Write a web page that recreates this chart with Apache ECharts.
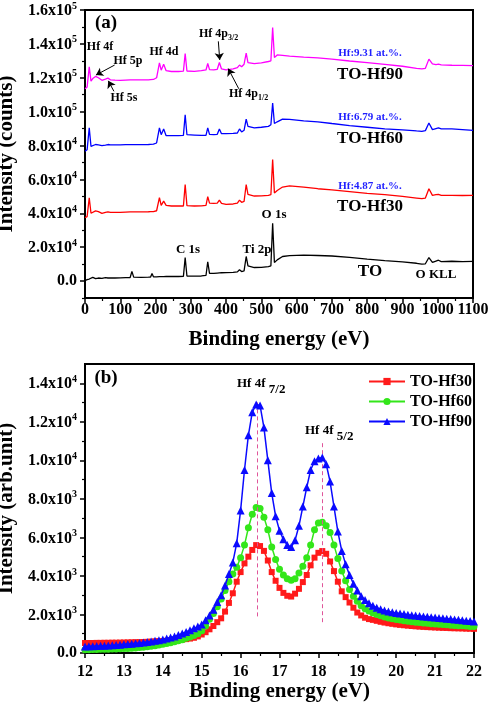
<!DOCTYPE html>
<html><head><meta charset="utf-8">
<script src="https://cdn.jsdelivr.net/npm/echarts@6/dist/echarts.min.js"></script>
<style>html,body{margin:0;padding:0;background:#fff}#c{width:491px;height:707px}</style>
</head><body><div id="c"></div>
<script>
// ---------- Panel (a): XPS survey spectra ----------
const surveyEnergy = [0,6,12,17,22,30,38,48,58,65,
 72,85,100,115,128,133,138,160,180,186,
 190,194,203,211,216,223,230,245,265,279,
 284,289,310,330,343,348,353,365,375,381,
 387,400,420,432,438,444,451,457,462,467,
 480,500,520,527,532,537,545,560,580,620,
 660,700,750,800,850,900,940,955,965,975,
 985,995,1002,1010,1040,1070,1100];
const surveyTO = [300,800,1200,1500,2200,1400,1800,1600,2000,1800,
 1900,1800,1900,2000,2100,5700,2300,2200,2300,2400,
 4500,2500,2500,2600,2600,2600,2700,2700,2700,2800,
 13900,3000,2900,3000,3300,11400,4500,4500,4700,4800,
 4900,5000,5100,5400,6700,5600,6000,14500,9000,8000,
 8000,8100,8500,9000,34100,11000,12500,14500,15000,15300,
 15100,14800,14000,13000,12100,11300,10500,10000,10200,13900,
 11000,11800,12300,11500,11700,11500,11600];
const surveyHf30 = [37400,38000,49200,40000,39800,41400,41000,40000,40600,40900,
 40500,40500,40600,40700,40800,41800,40800,40800,40900,41000,
 42000,41000,41500,49200,44700,47200,44700,44300,44300,44300,
 57000,44500,44300,44400,44700,49800,46000,45800,46000,47800,
 45800,45300,45500,46000,47800,46500,47000,57000,51200,50500,
 50200,50300,50600,51000,71700,52000,53500,55500,56200,55500,
 54500,53800,52800,51800,51000,50000,49000,48600,49000,54500,
 50600,51000,51200,50600,50600,50500,50600];
const surveyHf60 = [76600,77500,90400,79500,79200,80600,80400,80000,80300,80600,
 80400,80400,80400,80500,80500,81300,80500,80500,80600,80700,
 81500,80800,81500,90400,86400,89800,85800,85800,85800,86000,
 98200,86400,86200,86000,86000,90400,86600,86400,86600,89800,
 87000,87000,87200,87400,89800,88000,89000,95600,91300,90800,
 90400,90800,91300,92300,105000,93000,94000,95600,95400,94600,
 94000,93000,91800,90800,89800,89200,88600,88400,88800,93300,
 89400,90000,90400,89800,89800,89400,89000];
const surveyHf90 = [113500,114500,126500,118000,119500,120800,120000,118500,119200,119800,
 118800,118600,118500,118600,118700,119500,118700,118700,118800,118900,
 119600,119000,120000,128800,124500,128000,124200,123700,123700,123900,
 134300,124000,123800,124200,124600,128400,124800,124700,125000,129000,
 125200,124700,125200,126000,127500,126500,128000,134500,129000,128600,
 128300,128800,129600,130000,149700,132000,133500,133200,132800,132200,
 131700,131000,129900,128900,127900,126800,125500,125200,125600,131000,
 128200,127800,128000,127600,127400,127300,127200];
const surveyYTicks = [0,20000,40000,60000,80000,100000,120000,140000,160000];
const surveyYTickText = ['0.0','2.0x10^4','4.0x10^4','6.0x10^4','8.0x10^4','1.0x10^5','1.2x10^5','1.4x10^5','1.6x10^5'];
const surveyYMinor = [-10000,10000,30000,50000,70000,90000,110000,130000,150000];

// ---------- Panel (b): Hf 4f spectra ----------
const hfEnergy = [12.0,12.1,12.2,12.3,12.4,12.5,12.6,12.7,12.8,12.9,
 13.0,13.1,13.2,13.3,13.4,13.5,13.6,13.7,13.8,13.9,
 14.0,14.1,14.2,14.3,14.4,14.5,14.6,14.7,14.8,14.9,
 15.0,15.1,15.2,15.3,15.4,15.5,15.6,15.7,15.8,15.9,
 16.0,16.1,16.2,16.3,16.4,16.5,16.6,16.7,16.8,16.9,
 17.0,17.1,17.2,17.3,17.4,17.5,17.6,17.7,17.8,17.9,
 18.0,18.1,18.2,18.3,18.4,18.5,18.6,18.7,18.8,18.9,
 19.0,19.1,19.2,19.3,19.4,19.5,19.6,19.7,19.8,19.9,
 20.0,20.1,20.2,20.3,20.4,20.5,20.6,20.7,20.8,20.9,
 21.0,21.1,21.2,21.3,21.4,21.5,21.6,21.7,21.8,21.9,22.0];
const hf30 = [520,520,520,525,525,530,530,535,535,540,
 545,550,555,560,565,570,580,590,600,610,
 620,635,650,665,680,700,720,750,790,860,
 960,1080,1230,1400,1600,1800,2150,2600,3100,3700,
 4200,4650,5000,5350,5600,5550,5300,4800,4200,3750,
 3380,3120,2970,2930,3080,3330,3680,4050,4550,4950,
 5200,5290,5150,4750,4250,3700,3200,2900,2620,2350,
 2100,1950,1830,1760,1720,1670,1620,1580,1545,1515,
 1485,1460,1440,1420,1400,1385,1370,1355,1345,1335,
 1325,1315,1305,1300,1290,1285,1280,1275,1265,1260,1255];
const hf60 = [170,175,180,185,190,195,200,205,210,220,
 230,240,250,265,280,300,320,345,375,410,
 450,490,530,580,630,690,760,830,910,1000,
 1150,1400,1750,2050,2400,2800,3250,3700,4100,4450,
 4950,5600,6500,7200,7550,7500,7050,6400,5500,4850,
 4350,4050,3850,3770,3850,4150,4500,4950,5600,6400,
 6750,6780,6600,6250,5600,4900,4250,3750,3300,2950,
 2680,2450,2300,2180,2080,2000,1930,1870,1820,1780,
 1740,1710,1680,1650,1620,1600,1580,1560,1540,1520,
 1500,1490,1475,1460,1445,1430,1420,1410,1395,1380,1370];
const hf90 = [340,345,350,360,370,380,390,400,415,430,
 450,465,480,500,520,545,570,600,630,665,
 700,750,800,860,930,1010,1090,1180,1280,1370,
 1480,1700,1950,2250,2650,3000,3500,4100,4700,5700,
 7400,9500,11300,12500,12900,12850,11700,10000,8300,7100,
 6350,5900,5600,5500,5850,6600,7600,8600,9500,9950,
 10100,10150,9800,8900,7600,6300,5300,4600,4050,3600,
 3250,2950,2750,2580,2450,2350,2270,2210,2160,2120,
 2080,2050,2020,1990,1960,1940,1920,1900,1880,1860,
 1840,1820,1800,1780,1760,1740,1720,1700,1680,1660,1640];
const hfYTicks = [0,2000,4000,6000,8000,10000,12000,14000];
const hfYTickText = ['0.0','2.0x10^3','4.0x10^3','6.0x10^3','8.0x10^3','1.0x10^4','1.2x10^4','1.4x10^4'];
const hfYMinor = [1000,3000,5000,7000,9000,11000,13000];
const peakPositions = [16.43, 18.11];

const FONT = '"Liberation Serif","Times New Roman",serif';
const chart = echarts.init(document.getElementById('c'), null, {renderer:'canvas'});

function sciFormatter(ticks, texts){
  return function(v){
    const i = ticks.indexOf(v);
    if (i < 0) return '';
    const t = texts[i];
    if (t.indexOf('^') < 0) return '{b|' + t + '}';
    const p = t.split('^');
    return '{b|' + p[0] + '}{s|' + p[1] + '}';
  };
}
const sciRich = {
  b:{fontFamily:FONT,fontWeight:'bold',fontSize:16,color:'#000',verticalAlign:'bottom',lineHeight:16},
  s:{fontFamily:FONT,fontWeight:'bold',fontSize:10,color:'#000',verticalAlign:'bottom',padding:[0,0,8,0]}
};
const axisLineStyle = {show:true,onZero:false,lineStyle:{color:'#000',width:2}};
const nameStyle = {fontFamily:FONT,fontWeight:'bold',fontSize:21,color:'#000'};
const xLabel = {fontFamily:FONT,fontWeight:'bold',fontSize:16,color:'#000',formatter:function(v){return String(v);}};

function txt(x,y,text,size,opts){
  opts = opts || {};
  return {type:'text',x:x,y:y,silent:true,z:100,style:Object.assign({
    text:text,fontFamily:FONT,fontWeight:'bold',fontSize:size,fill:opts.fill||'#000',
    align:opts.align||'center',verticalAlign:'middle'},opts.style||{})};
}
function subTxt(x,y,base,sub,baseSize,subSize,drop){
  return {type:'text',x:x,y:y,silent:true,z:100,style:{
    text:'{a|'+base+'}{b|'+sub+'}',align:'left',verticalAlign:'top',
    rich:{
      a:{fontFamily:FONT,fontWeight:'bold',fontSize:baseSize,fill:'#000',color:'#000',verticalAlign:'top',lineHeight:baseSize+2},
      b:{fontFamily:FONT,fontWeight:'bold',fontSize:subSize,fill:'#000',color:'#000',verticalAlign:'top',lineHeight:subSize+2,padding:[drop,0,0,0]}
    }}};
}

const arrowLines = [
  [{coord:[84,127500]},{coord:[31,121600]}],
  [{coord:[82,112000]},{coord:[66,118200]}],
  [{coord:[378,141500]},{coord:[382,130500]}],
  [{coord:[436,113500]},{coord:[406,125400]}]
];

const surveyLine = (name, data, color) => ({
  name:name, type:'line', xAxisIndex:0, yAxisIndex:0,
  data: surveyEnergy.map((e,i)=>[e,data[i]]),
  showSymbol:false, symbol:'none', lineStyle:{color:color,width:1.3}, itemStyle:{color:color},
  animation:false, silent:true, z:3
});

const option = {
  animation:false,
  backgroundColor:'#fff',
  grid:[
    {left:85,top:10,width:388,height:288,show:true,borderColor:'#000',borderWidth:2,backgroundColor:'transparent',containLabel:false,outerBoundsMode:'none'},
    {left:85,top:364,width:389,height:289,show:true,borderColor:'#000',borderWidth:2,backgroundColor:'transparent',containLabel:false,outerBoundsMode:'none'}
  ],
  xAxis:[
    {type:'value',gridIndex:0,min:0,max:1100,interval:100,
     axisLine:axisLineStyle,axisTick:{show:true,inside:false,length:5,lineStyle:{color:'#000',width:1.5}},
     minorTick:{show:true,splitNumber:2,length:3,lineStyle:{color:'#000',width:1.2}},
     axisLabel:Object.assign({margin:4},xLabel),splitLine:{show:false},
     name:'Binding energy (eV)',nameLocation:'middle',nameGap:31,nameTextStyle:nameStyle},
    {type:'value',gridIndex:1,min:12,max:22,interval:1,
     axisLine:axisLineStyle,axisTick:{show:true,inside:false,length:5,lineStyle:{color:'#000',width:1.5}},
     minorTick:{show:true,splitNumber:2,length:3,lineStyle:{color:'#000',width:1.2}},
     axisLabel:Object.assign({margin:11},xLabel),splitLine:{show:false},
     name:'Binding energy (eV)',nameLocation:'middle',nameGap:27,nameTextStyle:nameStyle}
  ],
  yAxis:[
    {type:'value',gridIndex:0,min:-10000,max:160000,position:'left',
     axisLine:axisLineStyle,
     axisTick:{show:true,inside:false,length:5,customValues:surveyYTicks,lineStyle:{color:'#000',width:1.5}},
     axisLabel:{customValues:surveyYTicks,margin:8,formatter:sciFormatter(surveyYTicks,surveyYTickText),rich:sciRich},
     splitLine:{show:false},
     name:'Intensity (counts)',nameLocation:'middle',nameGap:57,nameTextStyle:nameStyle},
    {type:'value',gridIndex:0,min:-10000,max:160000,position:'left',
     axisLine:{show:false},axisLabel:{show:false},splitLine:{show:false},
     axisTick:{show:true,inside:false,length:3,customValues:surveyYMinor,lineStyle:{color:'#000',width:1.2}}},
    {type:'value',gridIndex:1,min:0,max:15000,position:'left',
     axisLine:axisLineStyle,
     axisTick:{show:true,inside:false,length:5,customValues:hfYTicks,lineStyle:{color:'#000',width:1.5}},
     axisLabel:{customValues:hfYTicks,margin:8,formatter:sciFormatter(hfYTicks,hfYTickText),rich:sciRich},
     splitLine:{show:false},
     name:'Intensity (arb.unit)',nameLocation:'middle',nameGap:57,nameTextStyle:nameStyle},
    {type:'value',gridIndex:1,min:0,max:15000,position:'left',
     axisLine:{show:false},axisLabel:{show:false},splitLine:{show:false},
     axisTick:{show:true,inside:false,length:3,customValues:hfYMinor,lineStyle:{color:'#000',width:1.2}}}
  ],
  legend:{
    data:['TO-Hf30','TO-Hf60','TO-Hf90'],orient:'vertical',left:363,top:368,
    itemWidth:36,itemHeight:9,itemGap:3,selectedMode:false,
    textStyle:{fontFamily:FONT,fontWeight:'bold',fontSize:16,color:'#000',lineHeight:17}
  },
  series:[
    surveyLine('TO survey', surveyTO, '#000000'),
    surveyLine('TO-Hf30 survey', surveyHf30, '#ff0000'),
    surveyLine('TO-Hf60 survey', surveyHf60, '#0000ff'),
    Object.assign(surveyLine('TO-Hf90 survey', surveyHf90, '#ff00ff'),{
      markLine:{silent:true,animation:false,symbol:['none','arrow'],symbolSize:7,
        label:{show:false},lineStyle:{color:'#000',width:1,type:'solid'},
        emphasis:{disabled:true},data:arrowLines}
    }),
    {name:'TO-Hf30',type:'line',xAxisIndex:1,yAxisIndex:2,
     data:hfEnergy.map((e,i)=>[e,hf30[i]]),
     symbol:'rect',symbolSize:6,showAllSymbol:true,
     lineStyle:{color:'#ff1a1a',width:1.5},itemStyle:{color:'#ff1a1a'},z:3,
     markLine:{silent:true,animation:false,symbol:['none','none'],label:{show:false},
       lineStyle:{color:'#e0559a',width:1,type:[4,3]},emphasis:{disabled:true},
       data:[
         [{coord:[peakPositions[0],1900]},{coord:[peakPositions[0],13100]}],
         [{coord:[peakPositions[1],1600]},{coord:[peakPositions[1],10900]}]
       ]}},
    {name:'TO-Hf60',type:'line',xAxisIndex:1,yAxisIndex:2,
     data:hfEnergy.map((e,i)=>[e,hf60[i]]),
     symbol:'circle',symbolSize:7,showAllSymbol:true,
     lineStyle:{color:'#33e61a',width:1.5},itemStyle:{color:'#33e61a'},z:4},
    {name:'TO-Hf90',type:'line',xAxisIndex:1,yAxisIndex:2,
     data:hfEnergy.map((e,i)=>[e,hf90[i]]),
     symbol:'triangle',symbolSize:8,showAllSymbol:true,
     lineStyle:{color:'#0a0aff',width:1.5},itemStyle:{color:'#0a0aff'},z:5}
  ],
  graphic:[
    txt(106,23,'(a)',19),
    txt(100,47,'Hf 4f',12),
    txt(128,61,'Hf 5p',12),
    txt(124,98,'Hf 5s',12),
    txt(164,52,'Hf 4d',12),
    subTxt(199,28,'Hf 4p','3/2',12,8,6),
    subTxt(229,88,'Hf 4p','1/2',12,8,6),
    txt(370,53,'Hf:9.31 at.%.',11,{fill:'#1f1fff'}),
    txt(370,75,'TO-Hf90',17),
    txt(370,117,'Hf:6.79 at.%.',11,{fill:'#1f1fff'}),
    txt(370,139,'TO-Hf60',17),
    txt(370,186,'Hf:4.87 at.%.',11,{fill:'#1f1fff'}),
    txt(370,207,'TO-Hf30',17),
    txt(188,250,'C 1s',13),
    txt(257,250,'Ti 2p',13),
    txt(274,215,'O 1s',13),
    txt(370,272,'TO',17),
    txt(436,275,'O KLL',13),
    txt(106,378,'(b)',19),
    subTxt(237,377,'Hf 4f ','7/2',13,13,6),
    subTxt(305,424,'Hf 4f ','5/2',13,13,6)
  ]
};
chart.setOption(option);
</script>
</body></html>
